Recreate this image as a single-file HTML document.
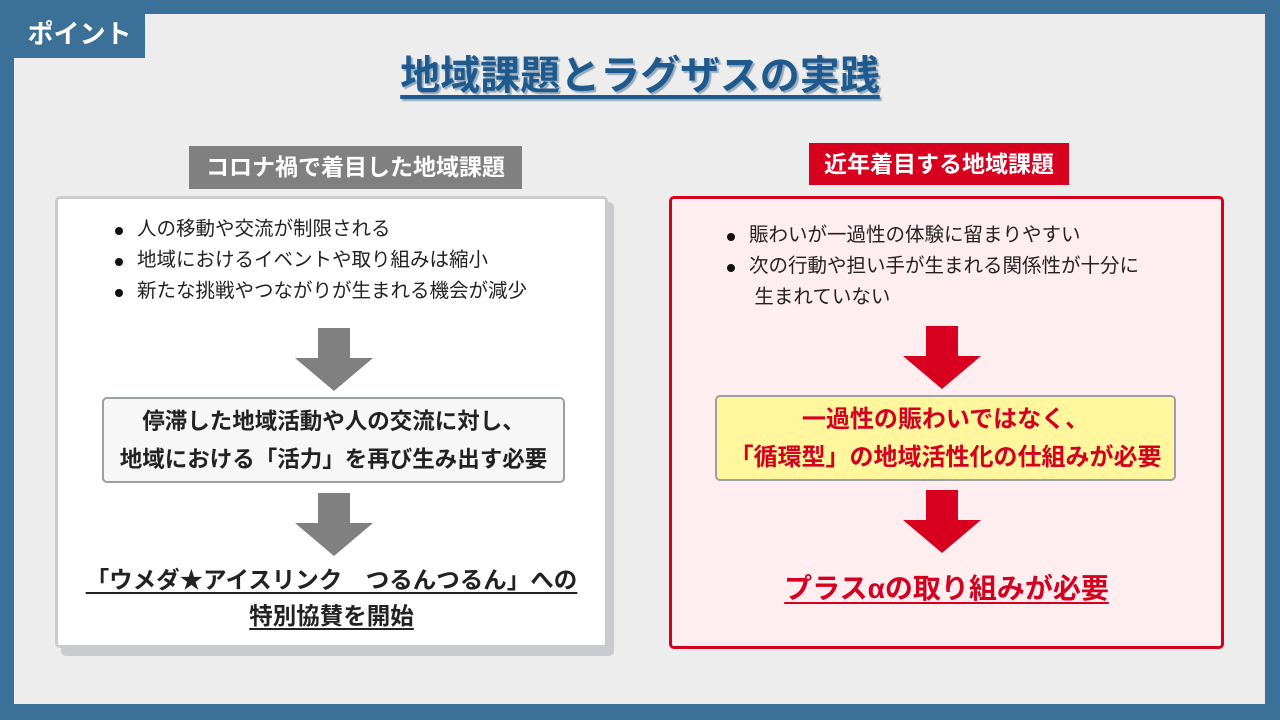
<!DOCTYPE html>
<html><head><meta charset="utf-8"><style>
*{margin:0;padding:0;box-sizing:border-box}
body{width:1280px;height:720px;background:#3b7098;position:relative;overflow:hidden;font-family:"Liberation Sans","Noto Sans CJK JP",sans-serif}
.a{position:absolute}
.inner{left:14px;top:14px;width:1251px;height:690px;background:#ededed}
.tab{left:14px;top:14px;width:131px;height:44px;background:#3b7098;color:#fff;font-weight:bold;font-size:26px;line-height:40px;text-align:center}
.title{left:0;width:1280px;top:50px;text-align:center;font-size:40px;font-weight:bold;color:#1f5a8e;text-decoration:underline;text-underline-offset:6px;text-shadow:2px 2px 1px #9ab;line-height:52px}
.lab{color:#fff;font-weight:bold;font-size:23px;text-align:center;white-space:nowrap}
.box{border-radius:5px}
ul{list-style:none}
li{font-size:19.5px;line-height:31px;color:#222;position:relative;padding-left:25px;white-space:nowrap}
li:before{content:"";position:absolute;left:3px;top:13px;width:8px;height:8px;border-radius:50%;background:#111}
.mid{font-weight:bold;font-size:22.5px;text-align:center;line-height:38px;white-space:nowrap}
.res{font-weight:bold;text-align:center;text-decoration:underline;text-underline-offset:4px;white-space:nowrap}
</style></head><body>
<div class="a inner"></div>
<div class="a tab">ポイント</div>
<div class="a title">地域課題とラグザスの実践</div>

<div class="a lab" style="left:189px;top:146px;width:333px;height:43px;background:#808080;line-height:43px">コロナ禍で着目した地域課題</div>
<div class="a box" style="left:61px;top:202px;width:553px;height:454px;background:#c9cbcf"></div>
<div class="a box" style="left:55px;top:196px;width:553px;height:452px;background:#fff;border:3px solid #c9cbcf"></div>
<ul class="a" style="left:112px;top:214px">
<li>人の移動や交流が制限される</li>
<li>地域におけるイベントや取り組みは縮小</li>
<li>新たな挑戦やつながりが生まれる機会が減少</li>
</ul>
<svg class="a" style="left:295px;top:328px" width="78" height="64"><polygon points="23,0 55,0 55,30 78,30 39,63 0,30 23,30" fill="#808080"/></svg>
<div class="a box mid" style="left:102px;top:397px;width:463px;height:86px;background:#f7f7f7;border:2px solid #9aa0a6;padding-top:4px;color:#222">停滞した地域活動や人の交流に対し、<br>地域における「活力」を再び生み出す必要</div>
<svg class="a" style="left:295px;top:493px" width="78" height="64"><polygon points="23,0 55,0 55,30 78,30 39,63 0,30 23,30" fill="#808080"/></svg>
<div class="a res" style="left:55px;top:562px;width:553px;line-height:36px;color:#222;font-size:23.5px">「ウメダ★アイスリンク　つるんつるん」への<br>特別協賛を開始</div>

<div class="a lab" style="left:809px;top:143px;width:260px;height:42px;background:#d7001f;line-height:42px">近年着目する地域課題</div>
<div class="a box" style="left:669px;top:196px;width:555px;height:453px;background:#ffeef0;border:3px solid #d40020"></div>
<ul class="a" style="left:724px;top:220px">
<li>賑わいが一過性の体験に留まりやすい</li>
<li>次の行動や担い手が生まれる関係性が十分に<br>&nbsp;生まれていない</li>
</ul>
<svg class="a" style="left:903px;top:326px" width="78" height="64"><polygon points="23,0 55,0 55,30 78,30 39,63 0,30 23,30" fill="#d7001f"/></svg>
<div class="a box mid" style="left:715px;top:395px;width:461px;height:86px;background:#fff69e;border:2px solid #9aa0a6;padding-top:4px;color:#d40020;font-size:24px">一過性の賑わいではなく、<br>「循環型」の地域活性化の仕組みが必要</div>
<svg class="a" style="left:903px;top:490px" width="78" height="64"><polygon points="23,0 55,0 55,30 78,30 39,63 0,30 23,30" fill="#d7001f"/></svg>
<div class="a res" style="left:669px;top:569px;width:555px;line-height:40px;color:#d40020;font-size:28px">プラスαの取り組みが必要</div>
</body></html>
